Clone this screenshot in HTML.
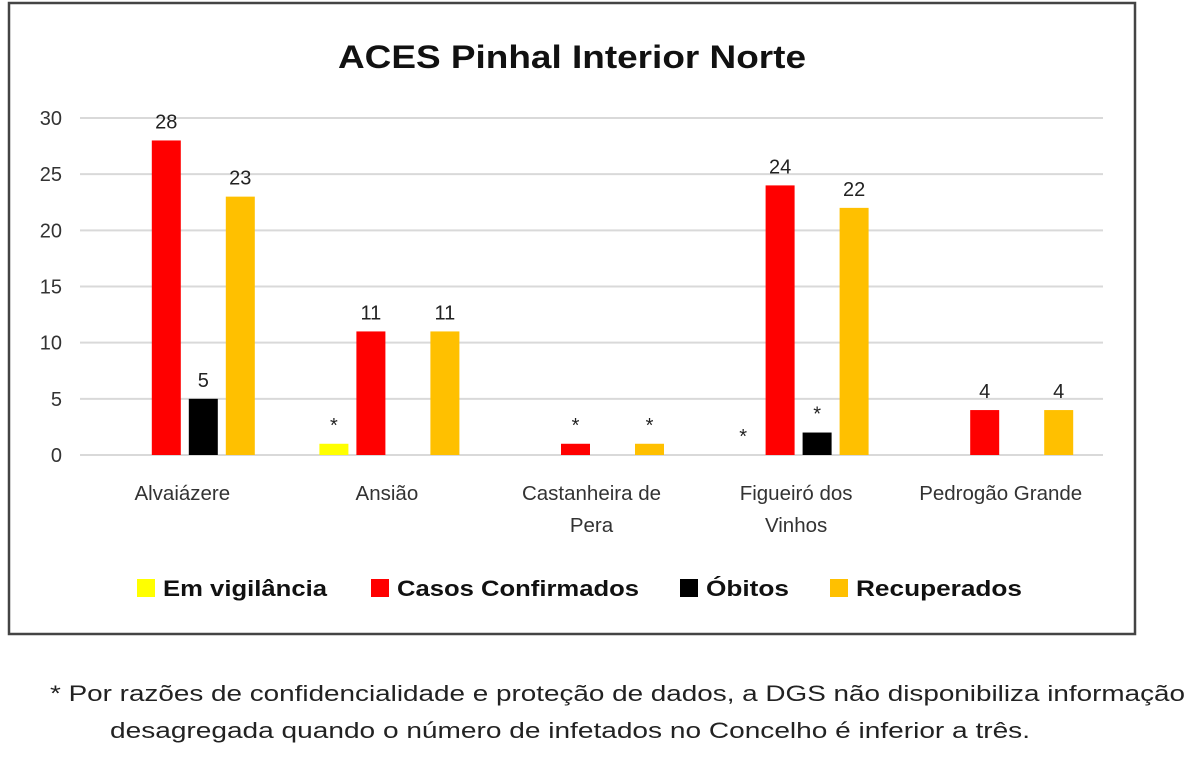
<!DOCTYPE html>
<html><head><meta charset="utf-8">
<style>
body{margin:0;background:#fff;font-family:"Liberation Sans",sans-serif;}
svg text{font-family:"Liberation Sans",sans-serif;}
</style></head>
<body>
<svg width="1200" height="759" xmlns="http://www.w3.org/2000/svg">
<rect x="9" y="3" width="1126" height="631" fill="#fff" stroke="#444" stroke-width="2.5"/>
<text x="338" y="68" textLength="468" lengthAdjust="spacingAndGlyphs" font-size="32" font-weight="bold" fill="#111">ACES Pinhal Interior Norte</text>
<g id="grid"></g><g id="bars"></g><g id="labels"></g>
<g id="legend"></g>
<text x="50" y="701" textLength="1135" lengthAdjust="spacingAndGlyphs" font-size="22" fill="#222">* Por razões de confidencialidade e proteção de dados, a DGS não disponibiliza informação</text>
<text x="110" y="738" textLength="920" lengthAdjust="spacingAndGlyphs" font-size="22" fill="#222">desagregada quando o número de infetados no Concelho é inferior a três.</text>
</svg>
<script>
const categories=[["Alvaiázere"],["Ansião"],["Castanheira de","Pera"],["Figueiró dos","Vinhos"],["Pedrogão Grande"]];
const seriesNames=["Em vigilância","Casos Confirmados","Óbitos","Recuperados"];
const seriesColors=["#ffff00","#ff0000","#000000","#ffc000"];
const vigilancia=[0,1,0,0,0];
const confirmados=[28,11,1,24,4];
const obitos=[5,0,0,2,0];
const recuperados=[23,11,1,22,4];
const vigilanciaLabels=["","*","","*",""];
const confirmadosLabels=["28","11","*","24","4"];
const obitosLabels=["5","","","*",""];
const recuperadosLabels=["23","11","*","22","4"];
const yTicks=[0,5,10,15,20,25,30];
const series=[vigilancia,confirmados,obitos,recuperados];
const seriesLabels=[vigilanciaLabels,confirmadosLabels,obitosLabels,recuperadosLabels];
const NS="http://www.w3.org/2000/svg";
const x0=80,x1=1103,yBase=455,yTop=118,yMax=30;
const y=v=>yBase-(yBase-yTop)*v/yMax;
const groupW=(x1-x0)/categories.length;
const gc=i=>x0+groupW*(i+0.5);
const barW=29,step=37;
function mk(tag,attrs,parent){const e=document.createElementNS(NS,tag);for(const k in attrs)e.setAttribute(k,attrs[k]);document.getElementById(parent).appendChild(e);return e;}
yTicks.forEach(t=>{
  const l=mk("line",{x1:x0,x2:x1,y1:y(t),y2:y(t),stroke:"#d9d9d9","stroke-width":2},"grid");
  
  
  const tx=mk("text",{x:62,y:y(t)+7,"text-anchor":"end","font-size":20,fill:"#333"},"grid");
  tx.textContent=t;
  
  
});
categories.forEach((c,i)=>{
  c.forEach((line,j)=>{
    const t=mk("text",{x:gc(i),y:500+j*32,"text-anchor":"middle","font-size":20.5,fill:"#333"},"labels");
    t.textContent=line;
    
    
  });
  series.forEach((s,k)=>{
    const bx=gc(i)-67.5+k*step;
    const v=s[i];
    if(v>0){
      const r=mk("rect",{x:bx,y:y(v),width:barW,height:yBase-y(v),fill:seriesColors[k]},"bars");
      
      
    }
    const lab=seriesLabels[k][i];
    if(lab){
      const t=mk("text",{x:bx+barW/2,y:y(v)-12,"text-anchor":"middle","font-size":20,fill:"#222"},"labels");
      t.textContent=lab;
      
      
    }
  });
});
const legX=[137,371,680,830];
const legW=[164,242,83,166];
seriesNames.forEach((n,k)=>{
  const r=mk("rect",{x:legX[k],y:579,width:18,height:18,fill:seriesColors[k]},"legend");
  
  
  const t=mk("text",{x:legX[k]+26,y:596,"font-size":22,"font-weight":"bold",fill:"#111",textLength:legW[k],lengthAdjust:"spacingAndGlyphs"},"legend");
  t.textContent=n;
  
  
});
</script>
</body></html>
